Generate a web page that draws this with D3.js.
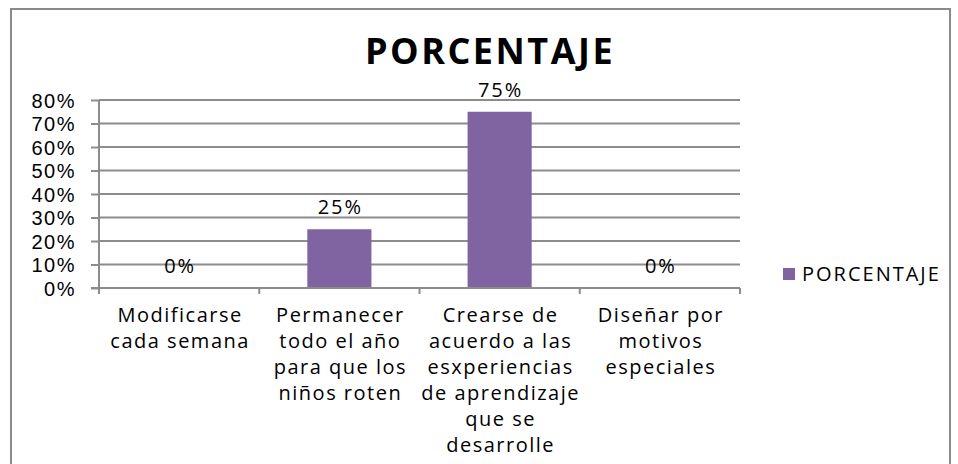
<!DOCTYPE html>
<html>
<head>
<meta charset="utf-8">
<script src="https://cdn.jsdelivr.net/npm/d3@7"></script>
<style>
  body { margin: 0; background: #fff; }
  svg { display: block; font-family: "Open Sans", sans-serif; }
</style>
</head>
<body>
<svg id="chart"></svg>
<script>
// chart data
const categories = [
  ["Modificarse", "cada semana"],
  ["Permanecer", "todo el año", "para que los", "niños roten"],
  ["Crearse de", "acuerdo a las", "esxperiencias", "de aprendizaje", "que se", "desarrolle"],
  ["Diseñar por", "motivos", "especiales"]
];
const values = [0, 0.25, 0.75, 0];
const yTicks = [0, 0.1, 0.2, 0.3, 0.4, 0.5, 0.6, 0.7, 0.8];
const seriesName = "PORCENTAJE";
const title = "PORCENTAJE";

const width = 958;
const height = 464;
const barColor = "#8064a2";
const gridColor = "#8c8c8c";

const svg = d3.select("#chart")
  .attr("width", width)
  .attr("height", height);

// outer frame of the chart area
svg.append("path")
  .attr("d", `M11,${height + 5} L11,9 L950,9 L950,${height + 5}`)
  .attr("fill", "none")
  .attr("stroke", "#8a8a8a")
  .attr("stroke-width", 2);

const plot = { left: 99, right: 740, top: 100, bottom: 288 };

const xScale = d3.scaleBand()
  .domain(d3.range(categories.length))
  .range([plot.left, plot.right])
  .padding(0);

const yScale = d3.scaleLinear()
  .domain([0, 0.8])
  .range([plot.bottom, plot.top]);

// gridlines
svg.append("g")
  .selectAll("line")
  .data(yTicks.slice(1))
  .join("line")
  .attr("x1", plot.left)
  .attr("x2", plot.right)
  .attr("y1", d => yScale(d))
  .attr("y2", d => yScale(d))
  .attr("stroke", gridColor)
  .attr("stroke-width", 2);

// y axis
const yAxis = d3.axisLeft(yScale)
  .tickValues(yTicks)
  .tickSize(8)
  .tickPadding(15)
  .tickFormat(d3.format(".0%"));

const yG = svg.append("g")
  .attr("transform", `translate(${plot.left}, 0)`)
  .call(yAxis);

yG.select(".domain").attr("stroke", gridColor).attr("stroke-width", 2)
  .attr("d", `M-8,${plot.bottom}H0V${plot.top}`);
yG.selectAll(".tick line").attr("stroke", gridColor).attr("stroke-width", 2);
yG.selectAll(".tick text")
  .attr("font-size", 20)
  .attr("letter-spacing", 1.5)
  .attr("fill", "#000")
  .attr("dy", "0.36em");

// bars
svg.append("g")
  .selectAll("rect")
  .data(values)
  .join("rect")
  .attr("x", (d, i) => xScale(i) + xScale.bandwidth() * 0.3)
  .attr("y", d => yScale(d))
  .attr("width", xScale.bandwidth() * 0.4)
  .attr("height", d => yScale(0) - yScale(d))
  .attr("fill", barColor);

// x axis line and boundary ticks
const xG = svg.append("g");
xG.append("line")
  .attr("x1", plot.left)
  .attr("x2", plot.right)
  .attr("y1", yScale(0))
  .attr("y2", yScale(0))
  .attr("stroke", gridColor)
  .attr("stroke-width", 2);

const bounds = d3.range(categories.length).map(i => xScale(i)).concat([plot.right]);
xG.selectAll(".xtick")
  .data(bounds)
  .join("line")
  .attr("class", "xtick")
  .attr("x1", d => d)
  .attr("x2", d => d)
  .attr("y1", yScale(0))
  .attr("y2", yScale(0) + 6)
  .attr("stroke", gridColor)
  .attr("stroke-width", 2);

// category labels
const catText = svg.append("g")
  .selectAll("text")
  .data(categories)
  .join("text")
  .attr("x", (d, i) => xScale(i) + xScale.bandwidth() / 2 + 1)
  .attr("y", yScale(0) + 34)
  .attr("text-anchor", "middle")
  .attr("font-size", 20)
  .attr("letter-spacing", 1.5)
  .attr("fill", "#000");

catText.selectAll("tspan")
  .data(d => d)
  .join("tspan")
  .attr("x", function () { return d3.select(this.parentNode).attr("x"); })
  .attr("dy", (d, i) => i === 0 ? 0 : 26)
  .text(d => d);

// data labels
svg.append("g")
  .selectAll("text")
  .data(values)
  .join("text")
  .attr("x", (d, i) => xScale(i) + xScale.bandwidth() / 2 + 1)
  .attr("y", d => yScale(d) - 15)
  .attr("text-anchor", "middle")
  .attr("font-size", 20)
  .attr("letter-spacing", 2)
  .attr("fill", "#000")
  .text(d => d3.format(".0%")(d));

// title
svg.append("text")
  .attr("x", 490)
  .attr("y", 64)
  .attr("text-anchor", "middle")
  .attr("font-size", 36)
  .attr("font-weight", "bold")
  .attr("letter-spacing", 2.5)
  .attr("fill", "#000")
  .text(title);

// legend
const legend = svg.append("g")
  .attr("transform", "translate(783, 268)");

legend.append("rect")
  .attr("width", 12)
  .attr("height", 12)
  .attr("fill", barColor);

legend.append("text")
  .attr("x", 19)
  .attr("y", 13)
  .attr("font-size", 20)
  .attr("letter-spacing", 2)
  .attr("fill", "#000")
  .text(seriesName);
</script>
</body>
</html>
